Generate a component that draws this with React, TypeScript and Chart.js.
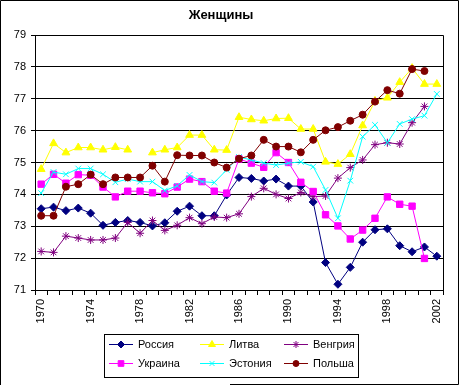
import React, { useEffect, useRef } from 'react';
import { Chart, registerables } from 'chart.js';
import { drawPoint } from 'chart.js/helpers';

Chart.register(...registerables);

const TITLE = 'Женщины';
const years = Array.from({ length: 33 }, (_, i) => String(1970 + i));
const yTicks = [71, 72, 73, 74, 75, 76, 77, 78, 79];

const russia = [73.55, 73.6, 73.49, 73.57, 73.41, 73.03, 73.12, 73.18, 73.12, 73.01, 73.11, 73.47, 73.63, 73.33, 73.33, 73.98, 74.53, 74.5, 74.42, 74.48, 74.26, 74.26, 73.76, 71.86, 71.18, 71.71, 72.5, 72.89, 72.92, 72.39, 72.2, 72.35, 72.06];
const lithuania = [74.79, 75.6, 75.31, 75.47, 75.47, 75.4, 75.48, 75.4, null, 75.31, 75.4, 75.47, 75.86, 75.86, 75.4, 75.39, 76.42, 76.35, 76.31, 76.38, 76.39, 76.05, 76.05, 75.02, 74.95, 75.26, 76.16, 76.93, 77.03, 77.52, 77.96, 77.46, 77.46];
const hungary = [72.21, 72.18, 72.69, 72.63, 72.57, 72.57, 72.63, 73.12, 72.78, 73.18, 72.87, 73.03, 73.27, 73.08, 73.29, 73.27, 73.39, 73.93, 74.19, 74.0, 73.87, 74.06, 73.93, 73.95, 74.51, 74.84, 75.08, 75.56, 75.62, 75.58, 76.25, 76.76, null];
const ukraine = [74.32, 74.63, 74.35, 74.62, 74.6, 74.23, 73.92, 74.1, 74.1, 74.05, 74.02, 74.23, 74.48, 74.4, 74.1, 74.04, 75.11, 74.98, 74.85, 75.31, 75.0, 74.38, 74.09, 73.36, 73.01, 72.6, 72.88, 73.25, 73.92, 73.69, 73.63, 71.99, null];
const estonia = [74.04, 74.7, 74.63, 74.81, 74.81, 74.63, 74.38, 74.48, 74.4, 74.4, 74.12, 74.27, 74.61, 74.4, 74.37, 74.77, 75.17, 75.08, 74.98, 74.92, 74.98, 75.02, 74.87, 74.14, 73.25, 74.43, 75.81, 76.18, 75.62, 76.21, 76.36, 76.47, 77.15];
const poland = [73.33, 73.33, 74.24, 74.32, 74.62, 74.32, 74.53, 74.53, 74.53, 74.9, 74.4, 75.23, 75.22, 75.22, 75.0, 74.84, 75.12, 75.22, 75.71, 75.5, 75.5, 75.32, 75.71, 76.01, 76.11, 76.31, 76.5, 76.91, 77.27, 77.16, 77.93, 77.87, null];

const seriesNames = ['Россия', 'Литва', 'Венгрия', 'Украина', 'Эстония', 'Польша'];
const seriesData = [russia, lithuania, hungary, ukraine, estonia, poland];
const seriesColors = ['#000080', '#FFFF00', '#800080', '#FF00FF', '#00FFFF', '#800000'];
const seriesMarkers = ['rectRot', 'triangle', 'star', 'rect', 'crossRot', 'circle'];
const markerRadius = [4, 4.5, 4, 4.5, 4, 3.5];

const FONT = '"Liberation Sans", Arial, sans-serif';

const decorPlugin = {
  id: 'decor',
  afterDraw(chart: any) {
    const ctx = chart.ctx;
    const ca = chart.chartArea;
    ctx.save();
    ctx.strokeStyle = '#000';
    ctx.lineWidth = 1;
    ctx.beginPath();
    ctx.moveTo(Math.round(ca.left) + 0.5, Math.round(ca.top) + 0.5);
    ctx.lineTo(Math.round(ca.right) + 0.5, Math.round(ca.top) + 0.5);
    ctx.lineTo(Math.round(ca.right) + 0.5, Math.round(ca.bottom) + 0.5);
    ctx.stroke();
    ctx.beginPath();
    ctx.moveTo(0.5, 385);
    ctx.lineTo(0.5, 0.5);
    ctx.lineTo(458.5, 0.5);
    ctx.lineTo(458.5, 384.5);
    ctx.lineTo(230, 384.5);
    ctx.stroke();
    ctx.fillStyle = '#000';
    ctx.font = `bold 13px ${FONT}`;
    ctx.textAlign = 'center';
    ctx.textBaseline = 'middle';
    ctx.fillText(TITLE, 221, 15);
    ctx.strokeRect(104.5, 334.5, 254, 43);
    const colX = [109, 200, 284];
    const rowY = [344.5, 363.5];
    ctx.font = `11px ${FONT}`;
    ctx.textAlign = 'left';
    chart.data.datasets.forEach((ds: any, i: number) => {
      const x = colX[i % 3];
      const y = rowY[Math.floor(i / 3)];
      ctx.strokeStyle = ds.borderColor;
      ctx.lineWidth = 1;
      ctx.beginPath();
      ctx.moveTo(x, y);
      ctx.lineTo(x + 24, y);
      ctx.stroke();
      ctx.fillStyle = ds.borderColor;
      ctx.strokeStyle = ds.borderColor;
      drawPoint(ctx, { pointStyle: ds.pointStyle, radius: ds.pointRadius - 0.5, borderWidth: 1, rotation: 0 }, x + 12, y);
      ctx.fillStyle = '#000';
      ctx.fillText(ds.label, x + 29, y + 0.5);
    });
    ctx.restore();
  },
};

export default function App() {
  const ref = useRef<HTMLCanvasElement>(null);
  useEffect(() => {
    document.body.style.margin = '0';
    const canvas = ref.current!;
    const chart = new Chart(canvas, {
      type: 'line',
      data: {
        labels: years,
        datasets: seriesNames.map((name, i) => ({
          label: name,
          data: seriesData[i],
          borderColor: seriesColors[i],
          backgroundColor: seriesColors[i],
          pointBackgroundColor: seriesColors[i],
          pointBorderColor: seriesColors[i],
          pointStyle: seriesMarkers[i],
          pointRadius: markerRadius[i],
          pointBorderWidth: 1,
          borderWidth: 1,
          tension: 0,
          spanGaps: false,
          fill: false,
          order: seriesNames.length - i,
        })),
      },
      options: {
        animation: false,
        responsive: false,
        maintainAspectRatio: false,
        layout: { padding: { top: 35, left: 0, right: 17, bottom: 50 } },
        plugins: {
          legend: { display: false },
          title: { display: false },
          tooltip: { enabled: false },
        },
        scales: {
          x: {
            type: 'category',
            offset: true,
            grid: { display: true, drawOnChartArea: false, drawTicks: true, tickLength: 5, color: '#000', offset: true },
            border: { display: true, color: '#000', width: 1 },
            ticks: {
              autoSkip: false,
              minRotation: 90,
              maxRotation: 90,
              padding: 4,
              color: '#000',
              font: { family: FONT, size: 11 },
              callback: (_v: any, idx: number) => (idx % 4 === 0 ? years[idx] : ''),
            },
            afterFit: (scale: any) => {
              scale.height = 45;
            },
          },
          y: {
            min: 71,
            max: 79,
            grid: { color: '#000', tickLength: 4, drawTicks: true },
            border: { display: true, color: '#000', width: 1 },
            ticks: {
              stepSize: 1,
              padding: 5,
              color: '#000',
              font: { family: FONT, size: 11 },
              callback: (v: any) => (yTicks.includes(v) ? String(v) : ''),
            },
            afterFit: (scale: any) => {
              scale.width = 35;
            },
          },
        },
      },
      plugins: [decorPlugin],
    });
    return () => chart.destroy();
  }, []);
  return <canvas ref={ref} width={460} height={385} style={{ display: 'block' }} />;
}
